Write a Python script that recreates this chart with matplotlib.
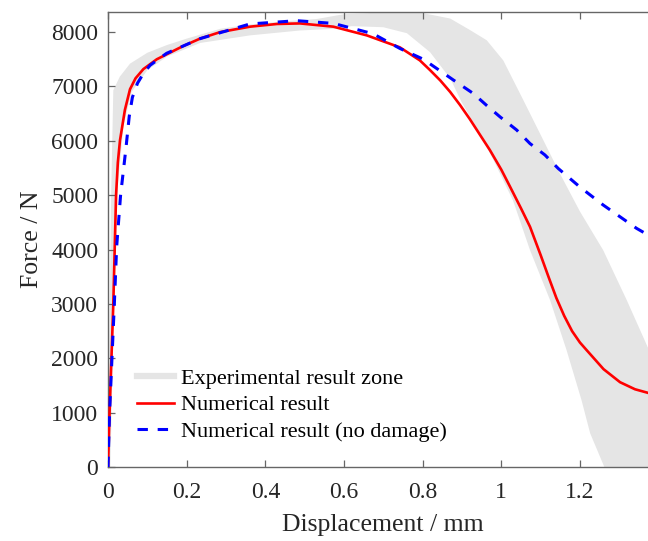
import numpy as np
import matplotlib.pyplot as plt
from matplotlib.lines import Line2D
from matplotlib.ticker import FuncFormatter

plt.rcParams['font.family'] = 'Liberation Serif'

# experimental scatter zone: upper edge (left to right), lower edge (right to left)
zone_up_x = [0, 0.003, 0.008, 0.0135, 0.03, 0.056, 0.1, 0.149, 0.2, 0.285, 0.36, 0.45,
             0.53, 0.6, 0.7, 0.8, 0.87, 0.92, 0.963, 1.005, 1.056, 1.107, 1.149, 1.2,
             1.259, 1.319, 1.38]
zone_up_y = [0, 2000, 5000, 6930, 7180, 7420, 7620, 7760, 7880, 8060, 8140, 8200,
             8240, 8330, 8360, 8350, 8250, 8040, 7850, 7480, 6750, 6010, 5400, 4700,
             3990, 3070, 2080]
zone_lo_x = [1.38, 1.262, 1.226, 1.204, 1.166, 1.124, 1.073, 1.03, 0.98, 0.94, 0.9,
             0.87, 0.819, 0.76, 0.7, 0.62, 0.573, 0.488, 0.361, 0.234, 0.15, 0.1, 0.06,
             0.04, 0.025, 0.015, 0.006]
zone_lo_y = [0, 0, 620, 1230, 2150, 3070, 3990, 4900, 5650, 6200, 6700,
             7150, 7630, 7980, 8090, 8110, 8060, 8030, 7940, 7800, 7550, 7300, 6900,
             6300, 5200, 3000, 0]

# numerical result with damage
num_x = [0, 0.004, 0.0135, 0.0205, 0.025, 0.0305, 0.043, 0.056, 0.07, 0.09, 0.124,
         0.19, 0.234, 0.285, 0.361, 0.43, 0.488, 0.573, 0.658, 0.742, 0.793, 0.819,
         0.845, 0.87, 0.895, 0.92, 0.945, 0.971, 1.0, 1.022, 1.05, 1.073, 1.1, 1.12,
         1.14, 1.16, 1.18, 1.2, 1.217, 1.26, 1.302, 1.34, 1.38]
num_y = [0, 1000, 3000, 5000, 5600, 6010, 6570, 6950, 7150, 7320, 7500,
         7740, 7880, 8000, 8100, 8150, 8160, 8100, 7940, 7720, 7480, 7300,
         7110, 6900, 6660, 6400, 6120, 5830, 5470, 5160, 4760, 4420, 3900, 3500,
         3110, 2780, 2500, 2290, 2150, 1800, 1560, 1430, 1350]

# numerical result without damage
nod_x = [0, 0.004, 0.016, 0.022, 0.032, 0.046, 0.054, 0.062, 0.075, 0.09, 0.107,
         0.149, 0.234, 0.361, 0.48, 0.573, 0.674, 0.742, 0.802, 0.836, 0.878, 0.929,
         0.963, 0.997, 1.039, 1.073, 1.111, 1.145, 1.2, 1.259, 1.344, 1.38]
nod_y = [0, 1000, 2980, 4050, 5000, 5890, 6450, 6800, 7060, 7240, 7390,
         7610, 7880, 8150, 8210, 8160, 7970, 7700, 7500, 7330, 7120, 6870,
         6650, 6440, 6200, 5950, 5740, 5490, 5150, 4820, 4390, 4240]

labels = ['Experimental result zone', 'Numerical result', 'Numerical result (no damage)']

W, H = 648, 541
fig = plt.figure(figsize=(W / 100, H / 100), dpi=100)
ax = fig.add_axes([108 / W, 74 / H, 550.6 / W, 455 / H])

ax.fill(zone_up_x + zone_lo_x, zone_up_y + zone_lo_y, color='#e5e5e5', lw=0, zorder=1)
ax.plot(num_x, num_y, color='red', lw=1.9, zorder=3)
ax.plot(nod_x, nod_y, color='blue', lw=2.2, dashes=(3.4, 3.2), zorder=4)

ax.set_xlim(0, 1.4)
ax.set_ylim(0, 8370)
ax.set_xticks([0, 0.2, 0.4, 0.6, 0.8, 1.0, 1.2])
ax.set_yticks(np.arange(0, 8001, 1000))
ax.xaxis.set_major_formatter(FuncFormatter(lambda v, p: '%g' % v))

for s in ax.spines.values():
    s.set_color('#666666')
    s.set_linewidth(1.0)
ax.tick_params(direction='in', length=5, width=0.9, color='#666666', top=True, right=True,
               labelsize=17, labelcolor='#262626')
ax.tick_params(axis='x', pad=11)
ax.tick_params(axis='y', pad=7)

ax.set_xlabel('Displacement / mm', fontsize=18.5, color='#262626', labelpad=8)
ax.set_ylabel('Force / N', fontsize=18.5, color='#262626', labelpad=6)

handles = [Line2D([], [], color='#e5e5e5', lw=4.5),
           Line2D([], [], color='red', lw=1.9),
           Line2D([], [], color='blue', lw=2.2, dashes=(3.4, 3.2))]
ax.legend(handles, labels, loc='upper left', bbox_to_anchor=(137 / W, 1 - 368 / H),
          bbox_transform=fig.transFigure, frameon=False, fontsize=16, borderpad=0,
          borderaxespad=0, handlelength=1.65, handletextpad=0.35, labelspacing=0.28)

fig.savefig('out.png', dpi=100)
